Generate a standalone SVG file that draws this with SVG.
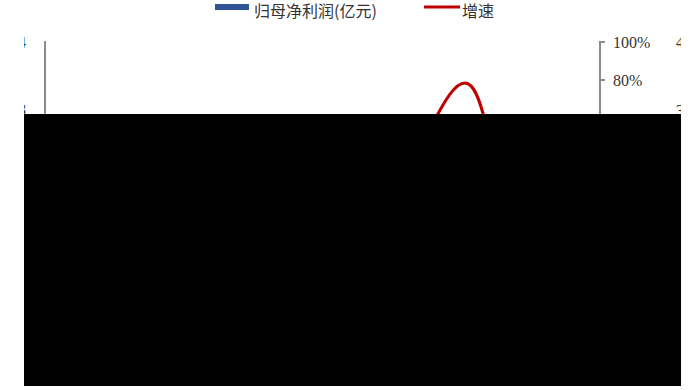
<svg xmlns="http://www.w3.org/2000/svg" width="699" height="390" viewBox="0 0 699 390">
<style>
.leg{font-family:"Noto Sans CJK SC","Liberation Sans",sans-serif;font-size:16px;fill:#333}
.ax{font-family:"Liberation Serif",serif;font-size:16px;fill:#333}
.axis{stroke:#8c8c8c;stroke-width:2;fill:none}
</style>
<defs>
<clipPath id="plot"><rect x="24" y="0" width="657" height="390"/></clipPath>
</defs>
<rect width="699" height="390" fill="#fff"/>
<g id="legend">
<rect x="215" y="4" width="34" height="6" fill="#2F5496"/>
<text class="leg" x="254" y="16.5">归母净利润(亿元)</text>
<line x1="424" y1="7" x2="460" y2="7" stroke="#C00000" stroke-width="3"/>
<text class="leg" x="462" y="16.5">增速</text>
</g>
<g id="axes" clip-path="url(#plot)">
<line class="axis" x1="45" y1="41" x2="45" y2="120"/>
<text class="ax" x="26" y="48" text-anchor="end">4</text>
<text class="ax" x="26" y="115" text-anchor="end">3</text>
<path class="axis" d="M605,42 H600 V120 M600,80 H605" stroke-width="1.5"/>
<text class="ax" x="613" y="48">100%</text>
<text class="ax" x="613" y="86">80%</text>
<text class="ax" x="676" y="48">4</text>
<text class="ax" x="676" y="116">3</text>
</g>
<g id="connectors">
<path d="M432,125 C445,100 455,83 465,83 C474,83 480,100 486,125" fill="none" stroke="#C00000" stroke-width="3" stroke-linecap="round"/>
</g>
<rect id="mask" x="24" y="114" width="657" height="272" fill="#000"/>
</svg>
